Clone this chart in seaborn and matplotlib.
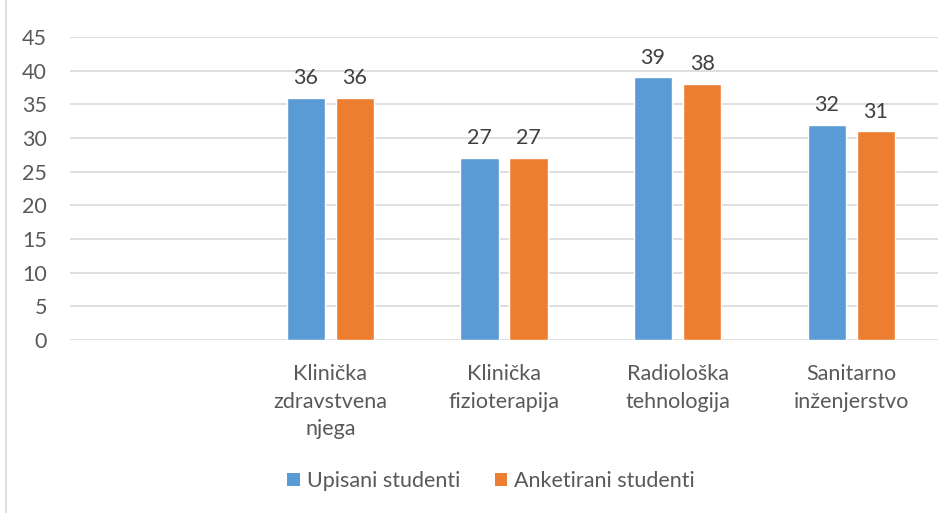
import matplotlib
matplotlib.use("Agg")
import matplotlib.pyplot as plt
import seaborn as sns
import pandas as pd
from matplotlib.lines import Line2D
from matplotlib.patches import Patch

categories = ["", "Klinička\nzdravstvena\nnjega", "Klinička\nfizioterapija",
              "Radiološka\ntehnologija", "Sanitarno\ninženjerstvo"]
series = ["Upisani studenti", "Anketirani studenti"]
upisani = [None, 36, 27, 39, 32]
anketirani = [None, 36, 27, 38, 31]
colors = ["#5B9BD5", "#ED7D31"]

rows = []
for c, u, a in zip(categories, upisani, anketirani):
    rows.append({"cat": c, "series": series[0], "val": u})
    rows.append({"cat": c, "series": series[1], "val": a})
df = pd.DataFrame(rows)
df["val"] = df["val"].astype(float)

sns.set_style("white")
plt.rcParams["font.family"] = ["Lato", "DejaVu Sans"]

FS = 15.5
fig = plt.figure(figsize=(9.53, 5.13), dpi=100)
ax = fig.add_axes([70/953, 1-340/513, 868/953, 303/513])

sns.barplot(data=df, x="cat", y="val", hue="series", order=categories,
            hue_order=series, palette=colors, width=0.565, gap=0.22,
            saturation=1, ax=ax, legend=False, errorbar=None)

ax.set_ylim(0, 45)
ax.set_yticks(range(0, 46, 5))
ax.yaxis.grid(True, color="#D9D9D9", linewidth=1.2)
ax.set_axisbelow(True)
for s in ax.spines.values():
    s.set_visible(False)
ax.set_xlabel("")
ax.set_ylabel("")
ax.tick_params(axis="y", length=0, pad=16.5, labelsize=FS, labelcolor="#595959")
ax.tick_params(axis="x", length=0, pad=17.5, labelsize=FS, labelcolor="#595959")
for lab in ax.get_xticklabels():
    lab.set_multialignment("center")
    lab.set_linespacing(1.45)

for cont in ax.containers:
    ax.bar_label(cont, labels=[("" if pd.isna(v) else f"{v:.0f}") for v in cont.datavalues],
                 padding=7, fontsize=FS, color="#404040")

handles = [Patch(facecolor=c, edgecolor="none") for c in colors]
fig.legend(handles, series, loc="center", bbox_to_anchor=(491/953, 1-481/513),
           ncol=2, frameon=False, fontsize=FS, labelcolor="#595959",
           handlelength=0.6, handleheight=0.6, handletextpad=0.3, columnspacing=1.6)

fig.add_artist(Line2D([6/953, 6/953], [0, 1], transform=fig.transFigure,
                      color="#D9D9D9", linewidth=1.2))

fig.savefig("out.png", dpi=100)
